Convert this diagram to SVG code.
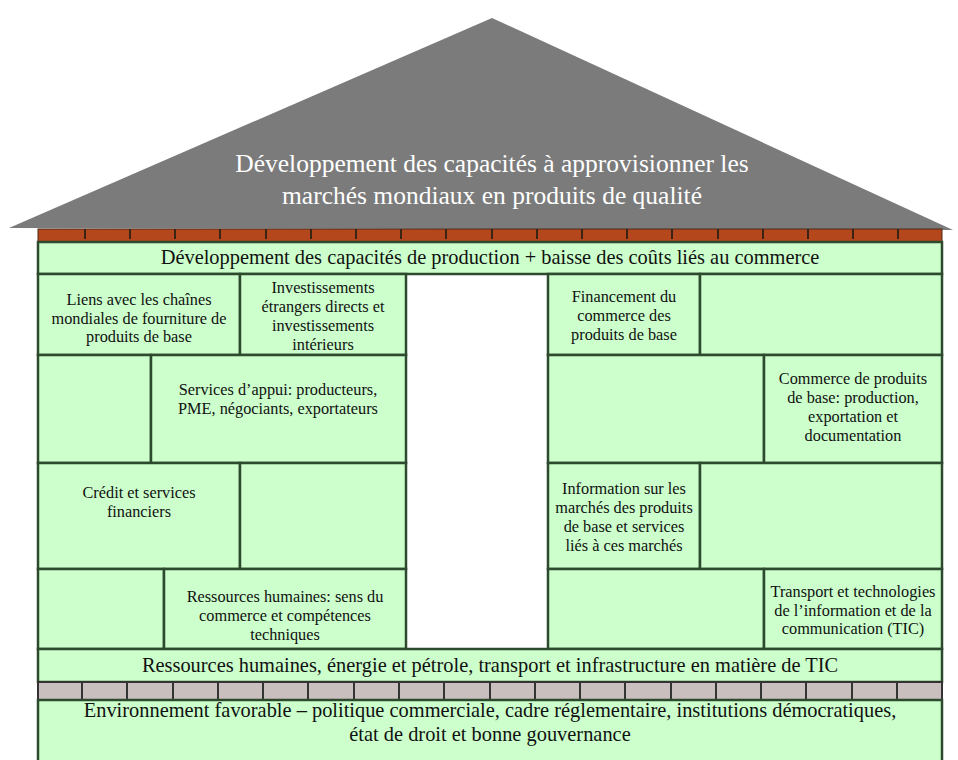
<svg xmlns="http://www.w3.org/2000/svg" width="958" height="760" viewBox="0 0 958 760">
<style>
.b{fill:#ccffcc;stroke:#2e4a2e;stroke-width:2.5}
.t{font-family:'Times New Roman',Times,'Liberation Serif','DejaVu Serif','Noto Serif',serif;fill:#111;text-anchor:middle}
.s{font-size:16.3px}
.l{font-size:20.4px}
.r{font-family:'Times New Roman',Times,'Liberation Serif','DejaVu Serif','Noto Serif',serif;fill:#fff;text-anchor:middle;font-size:25.5px}
.tk{stroke:#3a2418;stroke-width:2}
.gk{stroke:#333;stroke-width:2}
</style>
<rect width="958" height="760" fill="#fff"/>
<g id="roof">
<polygon points="9,228 492,18 953,230" fill="#7b7b7b"/>
<text class="r" x="492" y="172">Développement des capacités à approvisionner les</text>
<text class="r" x="492" y="204">marchés mondiaux en produits de qualité</text>
</g>
<g id="brick-strip">
<rect x="38" y="229" width="904" height="13" fill="#b5471d" stroke="#4a2a18" stroke-width="1"/>
<path class="tk" d="M85 229v10M130 229v10M175 229v10M220 229v10M266 229v10M311 229v10M356 229v10M401 229v10M446 229v10M492 229v10M537 229v10M582 229v10M627 229v10M672 229v10M718 229v10M763 229v10M808 229v10M853 229v10M898 229v10"/>
</g>
<g id="band-top">
<rect class="b" x="38" y="242" width="904" height="32"/>
<text class="t l" x="490" y="264">Développement des capacités de production + baisse des coûts liés au commerce</text>
</g>
<g id="l1a">
<rect class="b" x="38" y="274" width="202" height="81"/>
<text class="t s" x="139" y="305">Liens avec les chaînes</text>
<text class="t s" x="139" y="324">mondiales de fourniture de</text>
<text class="t s" x="139" y="342">produits de base</text>
</g>
<g id="l1b">
<rect class="b" x="240" y="274" width="166" height="81"/>
<text class="t s" x="323" y="293">Investissements</text>
<text class="t s" x="323" y="312">étrangers directs et</text>
<text class="t s" x="323" y="331">investissements</text>
<text class="t s" x="323" y="350">intérieurs</text>
</g>
<g id="r1a">
<rect class="b" x="548" y="274" width="152" height="81"/>
<text class="t s" x="624" y="302">Financement du</text>
<text class="t s" x="624" y="321">commerce des</text>
<text class="t s" x="624" y="340">produits de base</text>
</g>
<g id="r1b"><rect class="b" x="700" y="274" width="242" height="81"/></g>
<g id="l2a"><rect class="b" x="38" y="355" width="113" height="108"/></g>
<g id="l2b">
<rect class="b" x="151" y="355" width="255" height="108"/>
<text class="t s" x="278" y="395">Services d’appui: producteurs,</text>
<text class="t s" x="278" y="414">PME, négociants, exportateurs</text>
</g>
<g id="r2a"><rect class="b" x="548" y="355" width="216" height="108"/></g>
<g id="r2b">
<rect class="b" x="764" y="355" width="178" height="108"/>
<text class="t s" x="853" y="384">Commerce de produits</text>
<text class="t s" x="853" y="403">de base: production,</text>
<text class="t s" x="853" y="422">exportation et</text>
<text class="t s" x="853" y="441">documentation</text>
</g>
<g id="l3a">
<rect class="b" x="38" y="463" width="202" height="106"/>
<text class="t s" x="139" y="498">Crédit et services</text>
<text class="t s" x="139" y="517">financiers</text>
</g>
<g id="l3b"><rect class="b" x="240" y="463" width="166" height="106"/></g>
<g id="r3a">
<rect class="b" x="548" y="463" width="152" height="106"/>
<text class="t s" x="624" y="494">Information sur les</text>
<text class="t s" x="624" y="513">marchés des produits</text>
<text class="t s" x="624" y="532">de base et services</text>
<text class="t s" x="624" y="551">liés à ces marchés</text>
</g>
<g id="r3b"><rect class="b" x="700" y="463" width="242" height="106"/></g>
<g id="l4a"><rect class="b" x="38" y="569" width="126" height="80"/></g>
<g id="l4b">
<rect class="b" x="164" y="569" width="242" height="80"/>
<text class="t s" x="285" y="602">Ressources humaines: sens du</text>
<text class="t s" x="285" y="621">commerce et compétences</text>
<text class="t s" x="285" y="640">techniques</text>
</g>
<g id="r4a"><rect class="b" x="548" y="569" width="216" height="80"/></g>
<g id="r4b">
<rect class="b" x="764" y="569" width="178" height="80"/>
<text class="t s" x="853" y="597">Transport et technologies</text>
<text class="t s" x="853" y="616">de l’information et de la</text>
<text class="t s" x="853" y="634">communication (TIC)</text>
</g>
<g id="band-infra">
<rect class="b" x="38" y="649" width="904" height="33"/>
<text class="t l" x="490" y="672">Ressources humaines, énergie et pétrole, transport et infrastructure en matière de TIC</text>
</g>
<g id="grey-strip">
<rect x="38" y="682" width="904" height="18" fill="#c9bfbf" stroke="#333" stroke-width="2"/>
<path class="gk" d="M82 682v18M127 682v18M173 682v18M218 682v18M263 682v18M308 682v18M354 682v18M399 682v18M444 682v18M490 682v18M535 682v18M580 682v18M625 682v18M671 682v18M716 682v18M761 682v18M806 682v18M852 682v18M897 682v18"/>
</g>
<g id="band-env">
<rect class="b" x="38" y="700" width="904" height="64"/>
<text class="t l" x="490" y="717">Environnement favorable – politique commerciale, cadre réglementaire, institutions démocratiques,</text>
<text class="t l" x="490" y="741">état de droit et bonne gouvernance</text>
</g>
</svg>
